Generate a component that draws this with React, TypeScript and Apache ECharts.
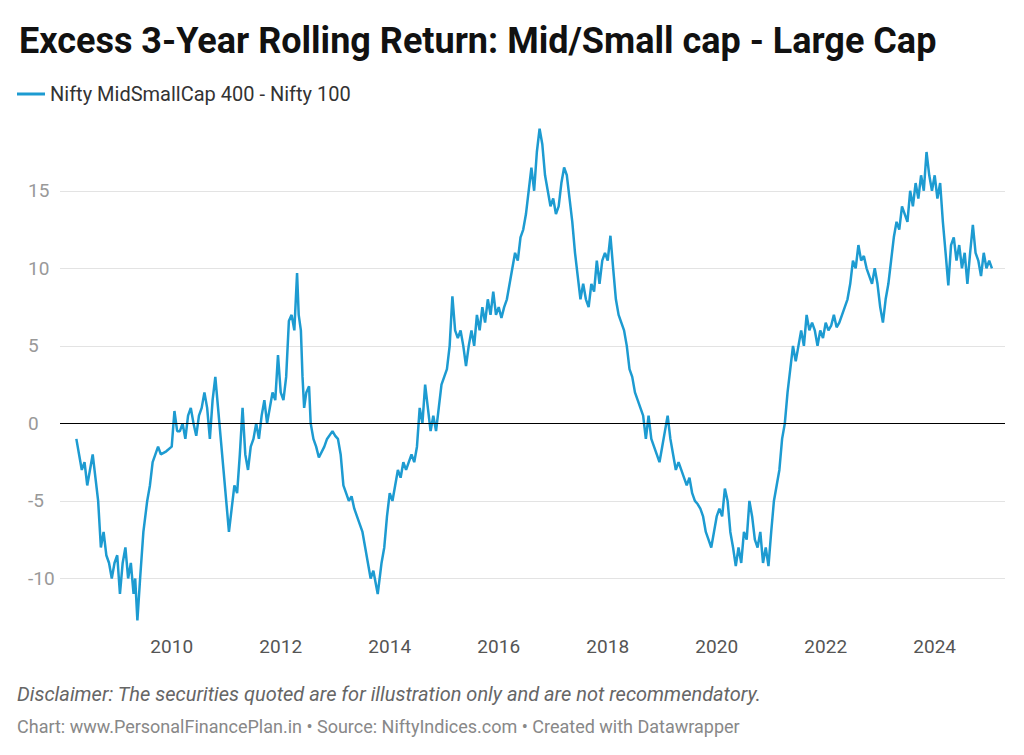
import React, { useEffect, useRef } from 'react';
import * as echarts from 'echarts';

const seriesName = 'Nifty MidSmallCap 400 - Nifty 100';
const yTicks = [-10, -5, 0, 5, 10, 15];
const xTicks = [2010, 2012, 2014, 2016, 2018, 2020, 2022, 2024];

// [year, excess return %]
const points: [number, number][] = [
  [2008.25, -1], [2008.3, -2], [2008.35, -3], [2008.4, -2.5], [2008.45, -4], [2008.5, -3], [2008.55, -2], [2008.6, -3.5],
  [2008.65, -5], [2008.7, -8], [2008.75, -7], [2008.8, -8.5], [2008.85, -9], [2008.9, -10], [2008.95, -9], [2009.0, -8.5],
  [2009.05, -11], [2009.1, -9], [2009.15, -8], [2009.2, -10], [2009.25, -9], [2009.3, -11], [2009.33, -10], [2009.37, -12.7],
  [2009.42, -10], [2009.48, -7], [2009.55, -5], [2009.6, -4], [2009.65, -2.5], [2009.7, -2], [2009.75, -1.5], [2009.8, -2],
  [2009.9, -1.8], [2010.0, -1.5], [2010.05, 0.8], [2010.1, -0.5], [2010.15, -0.5], [2010.2, 0], [2010.25, -1], [2010.3, 0.5],
  [2010.35, 1], [2010.4, 0], [2010.45, -0.8], [2010.5, 0.5], [2010.55, 1], [2010.6, 2], [2010.65, 1], [2010.7, -1],
  [2010.75, 1.5], [2010.8, 3], [2010.85, 1], [2010.9, -1], [2010.95, -3], [2011.0, -5], [2011.05, -7], [2011.1, -5.5],
  [2011.15, -4], [2011.2, -4.5], [2011.25, -2], [2011.3, 1], [2011.35, -2], [2011.4, -3], [2011.45, -1.5], [2011.5, -1],
  [2011.55, 0], [2011.6, -1], [2011.65, 0.5], [2011.7, 1.5], [2011.75, 0], [2011.8, 1], [2011.85, 2], [2011.9, 1.5],
  [2011.95, 4.4], [2012.0, 2], [2012.05, 1.5], [2012.1, 3], [2012.15, 6.6], [2012.2, 7], [2012.25, 6], [2012.3, 9.7],
  [2012.33, 7], [2012.37, 6], [2012.4, 3], [2012.43, 1], [2012.47, 2], [2012.52, 2.4], [2012.55, 0], [2012.6, -1],
  [2012.65, -1.5], [2012.7, -2.2], [2012.8, -1.5], [2012.85, -1], [2012.95, -0.5], [2013.0, -0.8], [2013.05, -1], [2013.1, -2],
  [2013.15, -4], [2013.2, -4.5], [2013.25, -5], [2013.3, -4.7], [2013.35, -5.5], [2013.45, -6.5], [2013.5, -7], [2013.55, -8],
  [2013.6, -9], [2013.65, -10], [2013.7, -9.5], [2013.78, -11], [2013.85, -9], [2013.9, -8], [2013.95, -6], [2014.0, -4.5],
  [2014.05, -5], [2014.1, -4], [2014.15, -3], [2014.2, -3.5], [2014.25, -2.5], [2014.3, -3], [2014.4, -2], [2014.45, -2.5],
  [2014.5, -1.5], [2014.55, 1], [2014.6, 0], [2014.65, 2.5], [2014.7, 1], [2014.75, -0.5], [2014.8, 0.5], [2014.85, -0.5],
  [2014.9, 1], [2014.95, 2.5], [2015.0, 3], [2015.05, 3.5], [2015.1, 5], [2015.15, 8.2], [2015.2, 6], [2015.25, 5.5],
  [2015.3, 6], [2015.35, 5], [2015.4, 3.7], [2015.45, 5], [2015.5, 6], [2015.55, 5], [2015.6, 7], [2015.65, 6],
  [2015.7, 7.5], [2015.75, 6.5], [2015.8, 8], [2015.85, 7], [2015.9, 8.5], [2015.95, 7], [2016.0, 7.5], [2016.05, 6.8],
  [2016.1, 7.5], [2016.15, 8], [2016.2, 9], [2016.25, 10], [2016.3, 11], [2016.35, 10.5], [2016.4, 12], [2016.45, 12.5],
  [2016.5, 13.5], [2016.55, 15], [2016.6, 16.5], [2016.65, 15], [2016.7, 17.5], [2016.75, 19], [2016.8, 18], [2016.85, 16],
  [2016.9, 15], [2016.95, 14], [2017.0, 14.5], [2017.05, 13.5], [2017.1, 14], [2017.15, 15.5], [2017.2, 16.5], [2017.25, 16],
  [2017.3, 14.5], [2017.35, 13], [2017.4, 11], [2017.45, 9.5], [2017.5, 8], [2017.55, 9], [2017.6, 8], [2017.65, 7.5],
  [2017.7, 9], [2017.75, 8.5], [2017.8, 10.5], [2017.85, 9], [2017.9, 10.5], [2017.95, 11], [2018.0, 10.5], [2018.05, 12.1],
  [2018.1, 10], [2018.15, 8], [2018.2, 7], [2018.25, 6.5], [2018.3, 6], [2018.35, 5], [2018.4, 3.5], [2018.45, 3],
  [2018.5, 2], [2018.55, 1.5], [2018.6, 1], [2018.65, 0.5], [2018.7, -1], [2018.75, 0.5], [2018.8, -1], [2018.85, -1.5],
  [2018.9, -2], [2018.95, -2.5], [2019.0, -1.5], [2019.05, -0.5], [2019.1, 0.5], [2019.15, -1], [2019.2, -2], [2019.25, -3],
  [2019.3, -2.5], [2019.35, -3], [2019.4, -3.5], [2019.45, -4], [2019.5, -3.5], [2019.55, -4.5], [2019.6, -5], [2019.65, -5.2],
  [2019.7, -5.5], [2019.75, -6], [2019.8, -7], [2019.85, -7.5], [2019.9, -8], [2019.95, -7], [2020.0, -6], [2020.05, -5.5],
  [2020.1, -6], [2020.15, -4.2], [2020.2, -5], [2020.25, -7], [2020.3, -8], [2020.35, -9.2], [2020.4, -8], [2020.45, -9],
  [2020.5, -7], [2020.55, -7.5], [2020.6, -5], [2020.65, -6], [2020.7, -7.5], [2020.75, -8], [2020.8, -7], [2020.85, -9],
  [2020.9, -8], [2020.95, -9.2], [2021.0, -7], [2021.05, -5], [2021.1, -4], [2021.15, -3], [2021.2, -1], [2021.25, 0],
  [2021.3, 2], [2021.35, 3.5], [2021.4, 5], [2021.45, 4], [2021.5, 5], [2021.55, 6], [2021.6, 5], [2021.65, 7],
  [2021.7, 6], [2021.75, 6.5], [2021.8, 6], [2021.85, 5], [2021.9, 6], [2021.95, 5.5], [2022.0, 6.5], [2022.05, 6],
  [2022.1, 6.3], [2022.15, 7], [2022.2, 6.2], [2022.25, 6.5], [2022.3, 7], [2022.35, 7.5], [2022.4, 8], [2022.45, 9],
  [2022.5, 10.5], [2022.55, 10], [2022.6, 11.5], [2022.65, 10.5], [2022.7, 10.8], [2022.75, 10], [2022.8, 9.5], [2022.85, 9],
  [2022.9, 10], [2022.95, 9], [2023.0, 7.5], [2023.05, 6.5], [2023.1, 8], [2023.15, 9], [2023.2, 10.5], [2023.25, 12],
  [2023.3, 13], [2023.35, 12.5], [2023.4, 14], [2023.45, 13.5], [2023.5, 13], [2023.55, 15], [2023.6, 14], [2023.65, 15.5],
  [2023.7, 14.5], [2023.75, 16], [2023.8, 15], [2023.85, 17.5], [2023.9, 16], [2023.95, 15], [2024.0, 16], [2024.05, 14.5],
  [2024.1, 15.5], [2024.15, 13], [2024.2, 11], [2024.25, 8.9], [2024.3, 11.5], [2024.35, 12], [2024.4, 10.5], [2024.45, 11.5],
  [2024.5, 10], [2024.55, 11], [2024.6, 9], [2024.65, 11], [2024.7, 12.8], [2024.75, 11], [2024.8, 10.5], [2024.85, 9.5],
  [2024.9, 11], [2024.95, 10], [2025.0, 10.5], [2025.05, 10],
];

export default function App() {
  const ref = useRef<HTMLDivElement>(null);

  useEffect(() => {
    document.body.style.margin = '0';
    if (!ref.current) return;
    const chart = echarts.init(ref.current, null, { renderer: 'svg' });
    const font = 'Roboto';
    chart.setOption({
      animation: false,
      backgroundColor: '#fff',
      textStyle: { fontFamily: font },
      title: {
        text: 'Excess 3-Year Rolling Return: Mid/Small cap - Large Cap',
        left: 14,
        top: 18,
        textStyle: { fontSize: 36, fontWeight: 'bold', color: '#111', fontFamily: font },
      },
      legend: {
        left: 12,
        top: 79,
        itemWidth: 28,
        itemHeight: 3,
        icon: 'rect',
        textStyle: { fontSize: 20, color: '#333', fontFamily: font },
        data: [seriesName],
      },
      graphic: [
        {
          type: 'text', left: 17, top: 684,
          style: {
            text: 'Disclaimer: The securities quoted are for illustration only and are not recommendatory.',
            fontSize: 20, fontStyle: 'italic', fill: '#666', fontFamily: font,
          },
        },
        {
          type: 'text', left: 17, top: 717,
          style: {
            text: 'Chart: www.PersonalFinancePlan.in • Source: NiftyIndices.com • Created with Datawrapper',
            fontSize: 18, fill: '#888', fontFamily: font,
          },
        },
      ],
      grid: { left: 60, right: 19, top: 121, bottom: 130 },
      xAxis: {
        type: 'value',
        min: 2007.95,
        max: 2025.29,
        axisLine: { show: false },
        axisTick: { show: false },
        splitLine: { show: false },
        axisLabel: {
          customValues: xTicks,
          formatter: (v: number) => String(Math.round(v)),
          fontSize: 19, color: '#555', margin: 12,
        },
      },
      yAxis: {
        type: 'value',
        min: -13,
        max: 19.5,
        axisLine: { show: false },
        axisTick: { show: false, customValues: yTicks },
        axisLabel: { customValues: yTicks, fontSize: 19, color: '#999', margin: 32, align: 'left' },
        splitLine: { show: true, lineStyle: { color: '#e3e3e3' } },
      },
      series: [
        {
          name: seriesName,
          type: 'line',
          data: points,
          showSymbol: false,
          lineStyle: { color: '#1d9bd1', width: 2.5 },
          itemStyle: { color: '#1d9bd1' },
          markLine: {
            silent: true,
            symbol: 'none',
            label: { show: false },
            lineStyle: { color: '#000', type: 'solid', width: 1 },
            data: [{ yAxis: 0 }],
          },
        },
      ],
    });
    return () => chart.dispose();
  }, []);

  return <div ref={ref} style={{ width: 1024, height: 755 }} />;
}
